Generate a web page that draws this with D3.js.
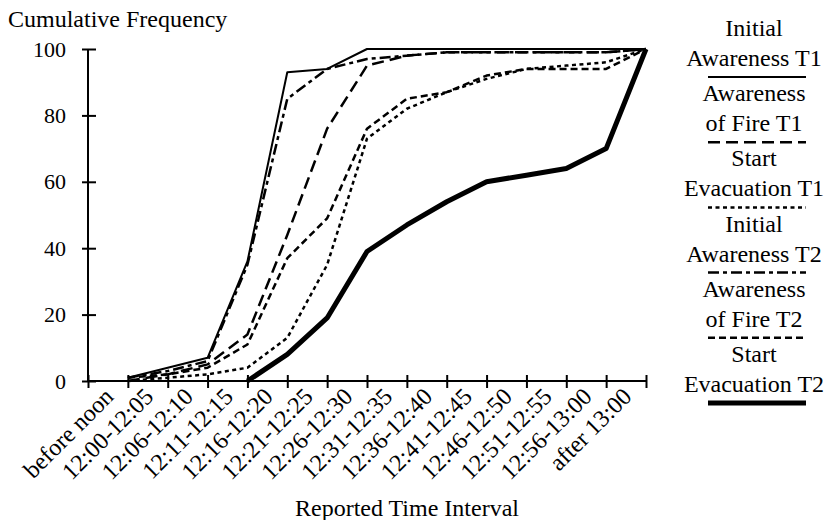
<!DOCTYPE html>
<html>
<head>
<meta charset="utf-8">
<script src="https://cdn.jsdelivr.net/npm/d3@7"></script>
<style>
  body { margin: 0; background: #fff; }
</style>
</head>
<body>
<svg id="chart" width="834" height="520"></svg>
<script>
// categories on the x axis
const categories = ["before noon", "12:00-12:05", "12:06-12:10", "12:11-12:15", "12:16-12:20",
  "12:21-12:25", "12:26-12:30", "12:31-12:35", "12:36-12:40", "12:41-12:45",
  "12:46-12:50", "12:51-12:55", "12:56-13:00", "after 13:00"];

const yTicks = [0, 20, 40, 60, 80, 100];

// cumulative frequency (%) per series
const initialAwarenessT1 = [1, 4, 7, 36, 93, 94, 100, 100, 100, 100, 100, 100, 100, 100];
const awarenessFireT1    = [0, 2, 5, 14, 44, 76, 95, 98, 99, 99, 99, 99, 99, 100];
const startEvacT1        = [0, 1, 2, 4, 13, 35, 73, 82, 87, 91, 94, 95, 96, 100];
const initialAwarenessT2 = [1, 3, 6, 35, 85, 94, 97, 98, 99, 99, 99, 99, 99, 100];
const awarenessFireT2    = [1, 2, 4, 11, 37, 49, 76, 85, 87, 92, 94, 94, 94, 100];
const startEvacT2        = [null, null, null, 0, 8, 19, 39, 47, 54, 60, 62, 64, 70, 100];

const seriesNames = [["Initial", "Awareness T1"], ["Awareness", "of Fire T1"], ["Start", "Evacuation T1"],
  ["Initial", "Awareness T2"], ["Awareness", "of Fire T2"], ["Start", "Evacuation T2"]];

const series = [
  { values: initialAwarenessT1, dash: null, width: 2 },
  { values: awarenessFireT1, dash: "12,6", width: 2.5 },
  { values: startEvacT1, dash: "4,3.5", width: 2.5 },
  { values: initialAwarenessT2, dash: "11,4,4,4", width: 2.5 },
  { values: awarenessFireT2, dash: "7,4", width: 2.5 },
  { values: startEvacT2, dash: null, width: 5 }
];

const serif = "'Liberation Serif', 'Times New Roman', Times, serif";

const svg = d3.select("#chart");
const plotLeft = 88, plotRight = 646, plotTop = 49, plotBottom = 381;

const x = d3.scaleBand().domain(categories).range([plotLeft, plotRight]);
const xEdge = d3.scaleLinear().domain([0, categories.length]).range([plotLeft, plotRight]);
const y = d3.scaleLinear().domain([0, 100]).range([plotBottom, plotTop]);

const px = c => x(c) + x.bandwidth();

// y axis
const yAxis = svg.append("g")
  .attr("transform", `translate(${plotLeft},0)`)
  .call(d3.axisLeft(y).tickValues(yTicks).tickSize(7).tickPadding(15));
yAxis.attr("font-family", serif).attr("font-size", 22);
yAxis.select(".domain").attr("stroke", "#000").attr("stroke-width", 2).attr("d", `M0,${plotTop}V${plotBottom}`);
yAxis.selectAll(".tick line").attr("x1", -6).attr("x2", 8).attr("stroke-width", 2);

// x axis (ticks at category edges)
const xAxis = svg.append("g")
  .attr("transform", `translate(0,${plotBottom})`)
  .call(d3.axisBottom(xEdge).tickValues(d3.range(categories.length + 1)).tickFormat("").tickSize(7));
xAxis.select(".domain").attr("stroke-width", 2).attr("d", `M${plotLeft},0H${plotRight}`);
xAxis.selectAll(".tick line").attr("y1", -6).attr("y2", 7).attr("stroke-width", 2);

const texts = svg.append("g").attr("font-family", serif).attr("font-size", 24);

texts.append("g").selectAll("text")
  .data(categories)
  .join("text")
  .attr("text-anchor", "end")
  .attr("transform", d => `translate(${px(d) - 13},${plotBottom + 17}) rotate(-45)`)
  .text(d => d);

// titles
texts.append("text").attr("x", 8).attr("y", 27).text("Cumulative Frequency");
texts.append("text").attr("x", 407).attr("y", 516).attr("text-anchor", "middle")
  .text("Reported Time Interval");

// lines
const line = d3.line()
  .defined(d => d.v != null)
  .x(d => px(d.c))
  .y(d => y(d.v));

svg.append("g").selectAll("path")
  .data(series)
  .join("path")
  .attr("fill", "none")
  .attr("stroke", "#000")
  .attr("stroke-width", d => d.width)
  .attr("stroke-dasharray", d => d.dash)
  .attr("stroke-linejoin", "round")
  .attr("d", d => line(d.values.map((v, i) => ({ c: categories[i], v }))));

// legend
const ly = d3.scaleLinear().domain([0, series.length - 1]).range([77, 403]);
const legend = texts.append("g").selectAll("g")
  .data(series)
  .join("g")
  .attr("transform", (d, i) => `translate(0,${ly(i)})`);

legend.append("line")
  .attr("x1", 708).attr("x2", 806)
  .attr("stroke", "#000")
  .attr("stroke-width", d => d.width)
  .attr("stroke-dasharray", d => d.dash);

legend.append("text")
  .attr("x", 754).attr("y", -41)
  .attr("text-anchor", "middle")
  .text((d, i) => seriesNames[i][0]);

legend.append("text")
  .attr("x", 754).attr("y", -11)
  .attr("text-anchor", "middle")
  .text((d, i) => seriesNames[i][1]);
</script>
</body>
</html>
